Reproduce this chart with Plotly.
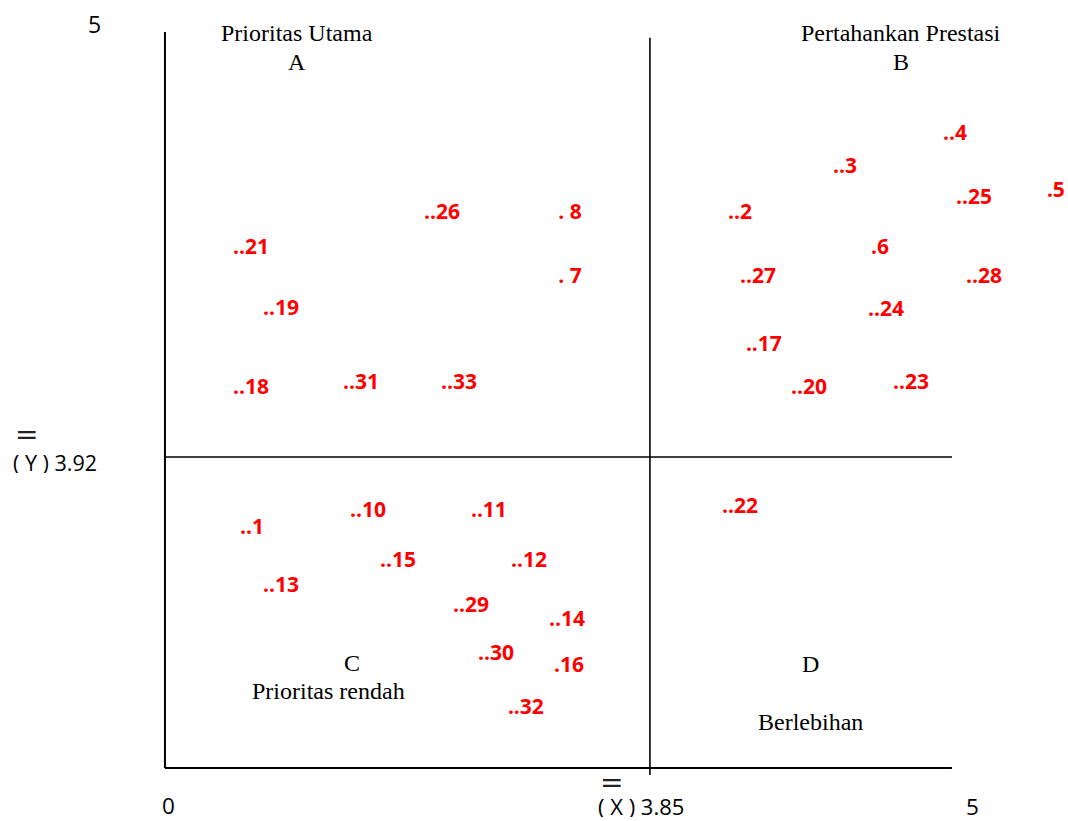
import plotly.graph_objects as go

# ---- data (schematic diagram units: both axes drawn 0..5) ----
attr_labels = ["..1", "..2", "..3", "..4", ".5", ".6", ". 7", ". 8", "..10", "..11",
               "..12", "..13", "..14", "..15", ".16", "..17", "..18", "..19", "..20",
               "..21", "..22", "..23", "..24", "..25", "..26", "..27", "..28", "..29",
               "..30", "..31", "..32", "..33"]
perf_x = [0.553, 3.653, 4.320, 5.019, 5.660, 4.542, 2.573, 2.573, 1.290, 2.058,
          2.313, 0.737, 2.554, 1.480, 2.567, 3.805, 0.546, 0.737, 4.091,
          0.546, 3.653, 4.739, 4.581, 5.140, 1.760, 3.767, 5.203, 1.944,
          2.103, 1.245, 2.293, 1.868]
imp_y = [1.625, 3.765, 4.077, 4.302, 3.914, 3.527, 3.330, 3.765, 1.741, 1.741,
         1.401, 1.231, 1.000, 1.401, 0.688, 2.868, 2.576, 3.113, 2.576,
         3.527, 1.768, 2.610, 3.106, 3.867, 3.765, 3.330, 3.330, 1.095,
         0.769, 2.610, 0.402, 2.610]

x_mean_pos = 3.081   # drawn position of mean X line (labelled 3.85)
y_mean_pos = 2.113   # drawn position of mean Y line (labelled 3.92)

quad_texts = ["Prioritas Utama", "A", "Pertahankan Prestasi", "B",
              "C", "Prioritas rendah", "D", "Berlebihan"]
quad_x = [0.839, 0.839, 4.676, 4.676, 1.188, 1.042, 4.098, 4.098]
quad_y = [4.993, 4.796, 4.993, 4.796, 0.713, 0.523, 0.706, 0.312]

axis_texts = ["5", "( Y ) 3.92", "0", "( X ) 3.85", "5"]
axis_x = [-0.445, -0.699, 0.025, 3.024, 5.133]
axis_y = [5.054, 2.079, -0.248, -0.258, -0.255]
axis_sizes = [23, 21.5, 22.5, 22, 22.5]

bar_x = [-0.877, 2.834]
bar_y = [2.269, -0.095]

# full-page axis ranges so labels outside the quadrant box stay visible
x_range = [-1.048, 5.737]
y_range = [-0.360, 5.217]

fig = go.Figure()
fig.add_trace(go.Scatter(
    x=perf_x, y=imp_y, mode="text", text=attr_labels,
    textposition="middle center", cliponaxis=False,
    textfont=dict(family="Open Sans", size=21, color="#ff0000", weight="bold"),
    hoverinfo="skip", showlegend=False))

blk = dict(color="black", width=2)
shapes = [
    dict(type="line", xref="x", yref="y", x0=0, x1=0, y0=0, y1=5, line=blk),
    dict(type="line", xref="x", yref="y", x0=0, x1=5, y0=0, y1=0, line=blk),
    dict(type="line", xref="x", yref="y", x0=x_mean_pos, x1=x_mean_pos, y0=-0.048, y1=4.96,
         line=dict(color="black", width=1.6)),
    dict(type="line", xref="x", yref="y", x0=0, x1=5, y0=y_mean_pos, y1=y_mean_pos,
         line=dict(color="black", width=1.6)),
]

annotations = []
for t, x, y in zip(quad_texts, quad_x, quad_y):
    annotations.append(dict(x=x, y=y, xref="x", yref="y", text=t, showarrow=False,
                            font=dict(family="Liberation Serif", size=24, color="black")))
for t, x, y, s in zip(axis_texts, axis_x, axis_y, axis_sizes):
    annotations.append(dict(x=x, y=y, xref="x", yref="y", text=t, showarrow=False,
                            height=22,
                            font=dict(family="Open Sans", size=s, color="black")))
for x, y in zip(bar_x, bar_y):
    annotations.append(dict(x=x, y=y, xref="x", yref="y", text="=", showarrow=False,
                            height=12,
                            font=dict(family="DejaVu Sans", size=28, color="#222222")))

fig.update_layout(
    width=1068, height=821,
    margin=dict(l=0, r=0, t=0, b=0),
    paper_bgcolor="white", plot_bgcolor="white",
    shapes=shapes, annotations=annotations,
    xaxis=dict(range=x_range, showgrid=False, zeroline=False, showticklabels=False,
               ticks="", showline=False, fixedrange=True, visible=False),
    yaxis=dict(range=y_range, showgrid=False, zeroline=False, showticklabels=False,
               ticks="", showline=False, fixedrange=True, visible=False),
)

fig.write_html("out.html", config={"displayModeBar": False},
               post_script="document.body.style.margin='0px';")
